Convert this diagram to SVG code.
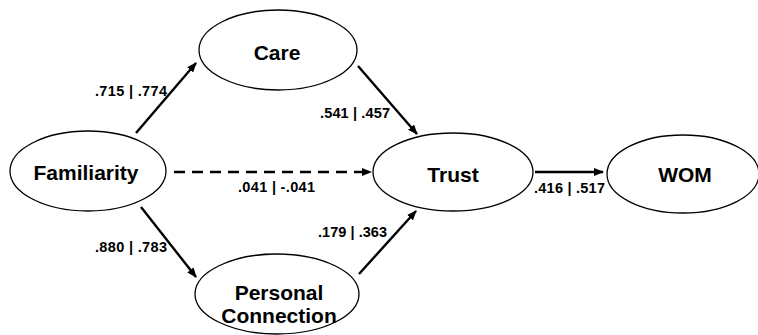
<svg xmlns="http://www.w3.org/2000/svg" width="758" height="335" viewBox="0 0 758 335">
<defs>
<marker id="ah" markerWidth="10" markerHeight="8" refX="9" refY="4" orient="auto" markerUnits="userSpaceOnUse">
<path d="M0,0 L10,4 L0,8 Z" fill="#000"/>
</marker>
<style>
.node ellipse{fill:#fff;stroke:#000;stroke-width:1.3}
.node text{font-family:"Liberation Sans",Arial,sans-serif;font-weight:bold;font-size:21px;text-anchor:middle;fill:#000}
.edge{stroke:#000;stroke-width:2.4;fill:none;marker-end:url(#ah)}
.dash{stroke-dasharray:11 7}
.lbl{font-family:"Liberation Sans",Arial,sans-serif;font-weight:bold;font-size:14.5px;fill:#000}
</style>
</defs>
<rect width="758" height="335" fill="#fff"/>
<g id="connectors">
<line class="edge" x1="136" y1="133" x2="196" y2="63"/>
<line class="edge" x1="358" y1="66" x2="417" y2="134"/>
<line class="edge dash" x1="174" y1="172" x2="371" y2="172"/>
<line class="edge" x1="141" y1="207" x2="196" y2="277"/>
<line class="edge" x1="359" y1="274" x2="416" y2="211"/>
<line class="edge" x1="535" y1="172" x2="603" y2="172"/>
<text class="lbl" x="95" y="96" textLength="72">.715 | .774</text>
<text class="lbl" x="320" y="118" textLength="70">.541 | .457</text>
<text class="lbl" x="238" y="192" textLength="77">.041 | -.041</text>
<text class="lbl" x="95" y="252" textLength="72">.880 | .783</text>
<text class="lbl" x="318" y="237" textLength="69">.179 | .363</text>
<text class="lbl" x="534" y="193" textLength="71">.416 | .517</text>
</g>
<g id="care" class="node">
<ellipse cx="278" cy="50" rx="79" ry="40"/>
<text x="277" y="60">Care</text>
</g>
<g id="familiarity" class="node">
<ellipse cx="88" cy="171" rx="78" ry="40"/>
<text x="86" y="180">Familiarity</text>
</g>
<g id="personal-connection" class="node">
<ellipse cx="277" cy="294" rx="82" ry="40"/>
<text x="279" y="300">Personal</text>
<text x="279" y="323">Connection</text>
</g>
<g id="trust" class="node">
<ellipse cx="453" cy="172" rx="80" ry="39"/>
<text x="453" y="182">Trust</text>
</g>
<g id="wom" class="node">
<ellipse cx="683" cy="174" rx="76" ry="39"/>
<text x="685" y="182">WOM</text>
</g>
</svg>
